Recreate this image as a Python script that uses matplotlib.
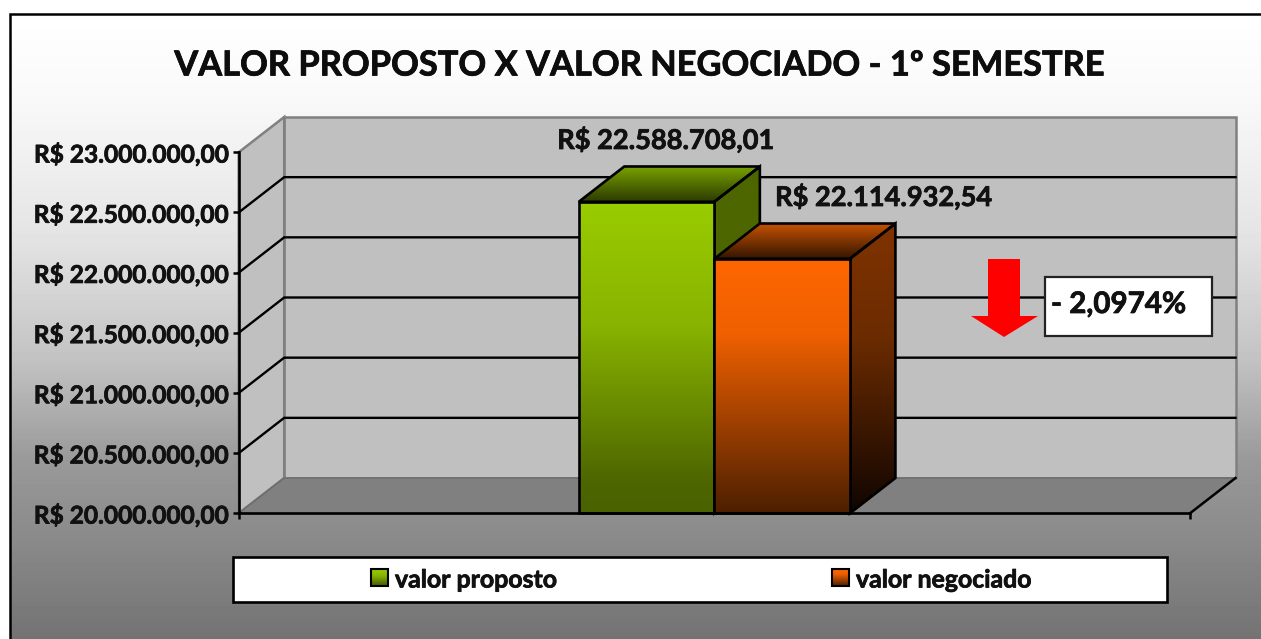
import numpy as np
import matplotlib
matplotlib.use("Agg")
import matplotlib.pyplot as plt
import matplotlib.patheffects as pe
from matplotlib.colors import to_rgb
from matplotlib.patches import Polygon, Rectangle
from matplotlib.text import Text

plt.rcParams['font.family'] = ['Lato', 'DejaVu Sans']
plt.rcParams['font.weight'] = 'bold'

W, H = 1261, 639

title = "VALOR PROPOSTO X VALOR NEGOCIADO - 1º SEMESTRE"
series_names = ["valor proposto", "valor negociado"]
series_values = [22588708.01, 22114932.54]
value_labels = ["R$ 22.588.708,01", "R$ 22.114.932,54"]
tick_values = [20000000, 20500000, 21000000, 21500000, 22000000, 22500000, 23000000]
tick_labels = ["R$ 20.000.000,00", "R$ 20.500.000,00", "R$ 21.000.000,00", "R$ 21.500.000,00",
               "R$ 22.000.000,00", "R$ 22.500.000,00", "R$ 23.000.000,00"]
diff_label = "- 2,0974%"

y_min, y_max = 20000000, 23000000
bar_w = 0.1425
# profundidade do efeito 3D em unidades de dados
depth_x = 45.5 / 951.3
depth_y = 35.3 / 361 * (y_max - y_min)


def vertical_gradient(target, extent, stops, clip, zorder):
    fr = [s[0] for s in stops]
    cols = np.array([to_rgb(s[1]) for s in stops])
    t = np.linspace(0, 1, 256)
    c = np.stack([np.interp(t, fr, cols[:, k]) for k in range(3)], axis=1).reshape(256, 1, 3)
    im = target.imshow(c, extent=extent, origin='upper', aspect='auto', zorder=zorder,
                       interpolation='bilinear')
    im.set_clip_path(clip)
    return im


def shaded_poly(target, pts, stops, zorder):
    pts = np.array(pts)
    outline = Polygon(pts, closed=True, facecolor='none', edgecolor='black', lw=1.9,
                      joinstyle='miter', zorder=zorder + 0.1, clip_on=False)
    target.add_patch(outline)
    extent = (pts[:, 0].min(), pts[:, 0].max(), pts[:, 1].min(), pts[:, 1].max())
    vertical_gradient(target, extent, stops, outline, zorder)


fig = plt.figure(figsize=(W / 100, H / 100), dpi=100, facecolor='white')

# fundo em pixels
bg = fig.add_axes([0, 0, 1, 1], zorder=0)
bg.set_xlim(0, W)
bg.set_ylim(H, 0)
bg.axis('off')
stop_y = [14, 100, 240, 360, 460, 540, 639]
stop_v = [1.0, 0.975, 0.89, 0.76, 0.60, 0.54, 0.45]
grad = np.interp(np.arange(14, H), stop_y, stop_v).reshape(-1, 1)
bg.imshow(grad, extent=(10, W, H, 14), cmap='gray', vmin=0, vmax=1, aspect='auto')
bg.set_xlim(0, W)
bg.set_ylim(H, 0)
bg.plot([10, 10, W], [H, 14, 14], color='black', lw=1.8, solid_joinstyle='miter')

# area do grafico
ax = fig.add_axes([238.7 / W, (H - 513.3) / H, 951.3 / W, 361 / H], zorder=1)
ax.patch.set_visible(False)

# paredes e piso
wall = '#C0C0C0'
edge = '#808080'
ax.add_patch(Polygon([(depth_x, y_min + depth_y), (1 + depth_x, y_min + depth_y),
                      (1 + depth_x, y_max + depth_y), (depth_x, y_max + depth_y)],
                     facecolor=wall, edgecolor=edge, lw=1.8, clip_on=False, zorder=1))
ax.add_patch(Polygon([(0, y_min), (depth_x, y_min + depth_y), (depth_x, y_max + depth_y), (0, y_max)],
                     facecolor=wall, edgecolor=edge, lw=1.8, clip_on=False, zorder=1))
ax.add_patch(Polygon([(0, y_min), (1, y_min), (1 + depth_x, y_min + depth_y), (depth_x, y_min + depth_y)],
                     facecolor='#808080', edgecolor='#6e6e6e', lw=1.2, clip_on=False, zorder=1))
ax.plot([1, 1 + depth_x], [y_min, y_min + depth_y], color='black', lw=1.8, clip_on=False, zorder=2)

# linhas de grade
for t in tick_values[1:-1]:
    ax.plot([0, depth_x, 1 + depth_x], [t, t + depth_y, t + depth_y], color='black', lw=1.7,
            clip_on=False, zorder=2, solid_joinstyle='miter')

# barras 3D
green = {'front': [(0, '#99CC00'), (0.4, '#88B300'), (0.9, '#4D6600'), (1, '#4A6200')],
         'side': [(0, '#4D6600'), (1, '#4D6600')],
         'top': [(0, '#7AA300'), (1, '#2B3A00')]}
orange = {'front': [(0, '#FF6600'), (0.3, '#EF6000'), (1, '#4D1F00')],
          'side': [(0, '#803300'), (0.4, '#6B2B00'), (1, '#100500')],
          'top': [(0, '#C85300'), (1, '#331400')]}
bar_x = [0.5 - bar_w / 2, 0.5 + bar_w / 2]
for i, (x, v, st) in enumerate(zip(bar_x, series_values, [green, orange])):
    z = 3 + i * 2
    x0, x1 = x - bar_w / 2, x + bar_w / 2
    shaded_poly(ax, [(x1, y_min), (x1 + depth_x, y_min + depth_y), (x1 + depth_x, v + depth_y), (x1, v)],
                st['side'], z)
    shaded_poly(ax, [(x0, v), (x1, v), (x1 + depth_x, v + depth_y), (x0 + depth_x, v + depth_y)],
                st['top'], z)
    rect = ax.bar(x, v - y_min, bar_w, bottom=y_min, facecolor='none', edgecolor='black', lw=1.9,
                  zorder=z + 0.5, clip_on=False)[0]
    vertical_gradient(ax, (x0, x1, y_min, v), st['front'], rect, z + 0.4)

# rotulos dos valores (deslocamento em pixels)
label_offset = [(19, 61.8), (101.5, 61.8)]
for x, v, txt, off in zip(bar_x, series_values, value_labels, label_offset):
    ax.annotate(txt, (x, v), xytext=(off[0] * 0.72, off[1] * 0.72), textcoords='offset points',
                ha='center', va='center', fontsize=19.6, color='#111111', zorder=10,
                annotation_clip=False)

ax.set_xlim(0, 1)
ax.set_ylim(y_min, y_max)
ax.set_xticks([0, 1], labels=[])
ax.set_yticks(tick_values, labels=tick_labels)
ax.tick_params(axis='both', length=4.3, width=1.8, color='black')
ax.tick_params(axis='y', labelsize=17.6, pad=3.5, labelcolor='#111111')
for s in ['top', 'right']:
    ax.spines[s].set_visible(False)
for s in ['left', 'bottom']:
    ax.spines[s].set_linewidth(1.9)
    ax.spines[s].set_zorder(8)

# camada de cima: titulo, seta, caixa, legenda
top = fig.add_axes([0, 0, 1, 1], zorder=2)
top.set_xlim(0, W)
top.set_ylim(H, 0)
top.axis('off')
top.text(640, 65.5, title, ha='center', va='center', fontsize=24.8, color='#0d0d0d')

top.add_patch(Polygon([(988, 259), (1020, 259), (1020, 316), (1038, 316), (1004, 337), (971, 316), (988, 316)],
                      facecolor='#FF0000', edgecolor='none'))
top.add_patch(Rectangle((1045, 277), 167, 59, facecolor='white', edgecolor='#222222', lw=1.6))
top.text(1051, 304, diff_label, ha='left', va='center', fontsize=21.3, color='#111111')

top.add_patch(Rectangle((233, 557), 934, 45, facecolor='white', edgecolor='black', lw=1.9))
swatches = [(371, green), (832, orange)]
text_x = [395, 856]
for (sx, st), tx, name in zip(swatches, text_x, series_names):
    sw = Rectangle((sx, 569), 17, 17, facecolor='none', edgecolor='black', lw=1.5, zorder=4)
    top.add_patch(sw)
    vertical_gradient(top, (sx, sx + 17, 586, 569), st['front'], sw, 3)
    top.text(tx, 580, name, ha='left', va='center', fontsize=17.9, color='#111111')
top.set_xlim(0, W)
top.set_ylim(H, 0)

# o bold do Lato e mais fino que o original: engrossa um pouco
for t in fig.findobj(Text):
    t.set_path_effects([pe.withStroke(linewidth=0.55, foreground=t.get_color())])

fig.savefig('out.png', dpi=100)
